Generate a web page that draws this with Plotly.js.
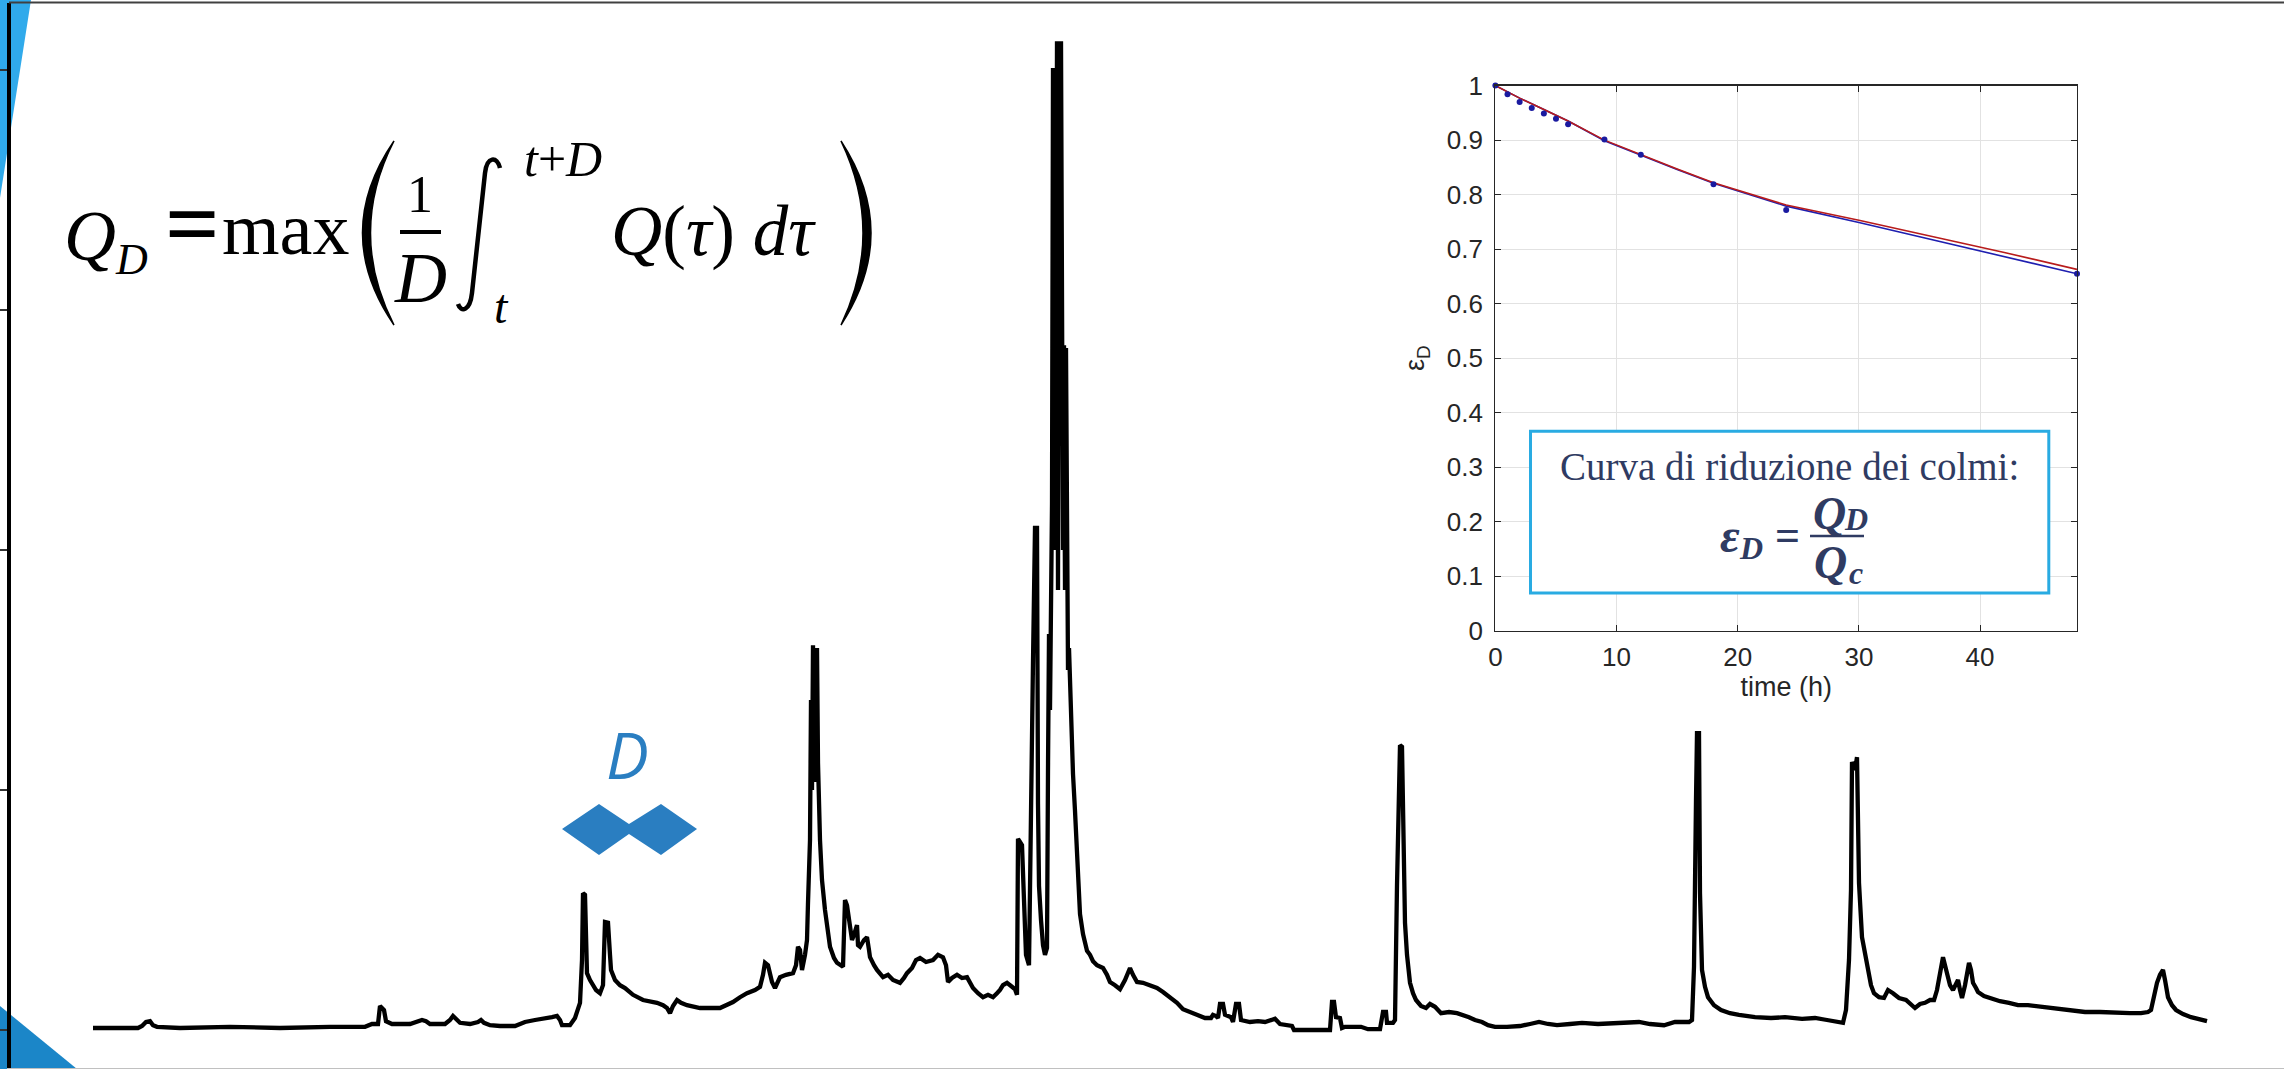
<!DOCTYPE html>
<html>
<head>
<meta charset="utf-8">
<script src="https://cdn.plot.ly/plotly-3.0.1.min.js"></script>
<style>html,body{margin:0;padding:0;background:#fff;}#chart{width:2284px;height:1069px;}</style>
</head>
<body>
<div id="chart"></div>
<script>
// ---------- Hydrograph (hourly discharge, m3/s) ----------
const hydroHours = [
0,45,49,53,57,60,64,87,137,187,237,272,279,285,287,291,293,299,317,325,329,333,337,352,357,360,363,367,377,385,388,391,397,407,422,432,442,452,459,464,
467,469,477,482,485,487,489,490,492,493,494,497,500,503,507,510,512,515,517,518,522,527,532,540,550,557,564,570,574,577,580,584,588,594,607,627,634,640,647,654,662,667,670,672,675,677,679,682,685,687,693,700,703,705,707,709,712,714,715,717,718,719,720,721,722,723,724,725,727,729,732,735,737,741,744,750,751,752,754,755,757,759,761,764,765,767,771,774,776,777,781,784,790,795,800,807,811,814,819,823,827,833,840,845,850,853,855,859,864,869,874,877,880,885,890,895,900,904,907,
910,914,919,922,924,925,927,929,931,933,936,938,940,942,944,945,946,948,950,952,954,955,956,957,958,959,960,961,962,963,964,965,966,967,968,969,970,971,972,973,974,975,976,979,980,982,985,987,990,994,997,1000,1004,1010,1014,1017,1022,1027,1032,1037,1040,1044,1050,1057,1064,1070,1077,1084,1090,1097,1107,
1112,1118,1120,1123,1125,1127,1130,1132,1135,1138,1140,1143,1146,1148,1157,1165,1172,1177,1182,1187,1193,1199,1201,1237,1239,1241,1243,1247,1249,1252,1268,1275,1287,1290,1293,1294,1300,1302,1304,1305,1307,1309,1310,1311,1312,1314,1317,1320,1323,1328,1333,1337,1342,1348,1356,1364,1370,1376,1382,1389,1395,1402,1414,1427,1437,1446,1455,1464,1477,1489,1505,1521,1532,1546,1557,1571,1582,1596,1599,1601,1603,1604,1606,1607,1609,1612,1615,1621,1628,1637,1646,1662,1678,1692,1709,1722,1734,1742,1750,1753,1756,1758,1759,1762,1764,1765,1766,1769,1772,1775,1778,1781,1786,1791,1795,1800,1806,1813,1818,1822,1827,1832,1837,1841,1844,1846,1848,1850,1852,1855,1857,1860,1863,1865,1867,1869,1872,1874,1876,1878,1880,1883,1885,1891,1897,1907,1916,1925,1935,1947,1960,1977,1992,2007,2023,2037,2048,2055,2058,2061,2064,2067,2070,2072,2075,2079,2083,2090,2098,2105,2111,2114
];
const hydroFlow = [
0.5,0.5,1,2,2.2,1.2,0.8,0.5,0.8,0.5,0.8,0.8,1.5,1.5,6,5,2.2,1.5,1.5,2,2.5,2.2,1.5,1.5,2.5,3.5,2.8,1.8,1.5,2,2.5,1.8,1.2,1,1,2,2.5,2.8,3.2,3.5,
2.5,1.2,1.2,3,5.5,6.8,17.5,34.2,33.8,22.5,14.2,12.5,11.2,10,9.2,11.2,27,26.8,18.8,15,12.5,11.2,10.5,8.8,7.5,7.2,6.8,6.2,5.5,4.2,6,7.5,6.8,6.2,5.5,5.5,6.2,7,8.2,9.2,10,10.8,13.8,16.8,16.2,13.8,12,10.5,12,13.2,13.8,14.2,16.2,20.8,20,15,18.8,22.5,31.8,47.5,82.5,60,96.2,70,92.5,62,95.5,66.8,47.5,37.5,30,23.8,20.8,18,16.8,15.8,25,32.5,31.2,29.2,25,22.5,23.8,26.2,21.2,20.8,22.5,23.2,20,18.2,16.2,15,13.2,13.8,12.5,11.8,13,14.2,15.5,17.5,18,17,17.5,18.8,18.2,16.2,12,13,13.8,13,13.2,11.8,10.5,9.2,8.2,8.8,8.2,9.2,10,
11.2,11.8,10.8,10.2,8.8,47.8,47,46.2,32.5,18.8,16.2,46.2,92.2,125.5,125.5,56.5,36,27.5,21.2,18.8,20.5,65,99,80,105.8,131.5,240.5,120,240.5,150,247.2,110,247.2,160,247.2,172.2,120,171.2,110,170.5,131.5,90,95.5,70,64,54.8,37.8,29,24,19.8,18.8,17.2,16.2,15.5,13.8,12,11.2,10.2,12.5,15.5,13.8,12,11.8,11.2,10.5,9.5,8.2,6.8,5.2,4.5,3.5,
3,3,3.8,3.5,3,6.5,6.5,3.8,3.5,3.2,2,6.5,6.5,2.5,2,2.2,2,2.5,2.8,1.5,1.2,1,0,0,7,7,3.2,3,0.5,0.8,0.8,0.2,0.2,4.5,4.5,1.8,1.8,2.5,36.2,45,71.2,70.8,57.5,45,26.8,18.8,11.8,9.2,7.5,6,5.5,6.5,5.8,4.2,4.5,4.2,3.8,3.2,2.5,2,1.2,0.8,0.8,1,1.5,2,1.5,1.2,1.5,1.8,1.5,1.8,2,2,1.5,1.2,2,2,2.5,15.8,57.5,74.2,74.2,34.2,15,10.8,8.2,6.2,5,4.2,3.8,3.2,3,3.2,2.8,3,2.5,2.2,1.8,5,17.5,35,67,65,68.2,52.5,36.8,23.2,18.8,15,11.2,9.2,8.2,8,10,9.2,8,7.5,6.2,5.5,6.5,6.8,7.5,7.5,10,13.2,15.5,18.2,16.2,13.2,11.2,10,11.2,12.5,10,8,11.2,15,16.8,15,11.8,10.5,9.5,8.5,8,7.2,6.8,6.2,6.2,5.8,5.5,5,4.5,4.5,4.2,4.2,4.2,4.5,5,8.8,11.8,13.8,15,12.5,8.2,6.2,5,4,3.2,2.8,2.5,2.2
];
const flowTicks = [0, 60, 120, 180, 240];

// ---------- Inset: peak reduction curve ----------
const durationHours = [0, 1, 2, 3, 4, 5, 6, 9, 12, 18, 24, 48];
const epsObserved = [1.0, 0.984, 0.970, 0.959, 0.949, 0.939, 0.929, 0.901, 0.873, 0.819, 0.772, 0.655];
const fitHours = [0, 2, 4, 6, 9, 12, 15, 18, 21, 24, 30, 36, 42, 48];
const epsFitBlue = [1.0, 0.977, 0.956, 0.935, 0.899, 0.872, 0.846, 0.821, 0.800, 0.779, 0.749, 0.718, 0.686, 0.655];
const epsFitRed  = [1.0, 0.977, 0.956, 0.935, 0.900, 0.873, 0.847, 0.822, 0.801, 0.781, 0.753, 0.724, 0.694, 0.663];
const insetXTicks = [0, 10, 20, 30, 40];

// ---------- helpers for page-placed decorations ----------
const W = 2284, H = 1069;
const PX = v => v / W;
const PY = v => 1 - v / H;
function pth(cmds) {
  return cmds.map(c => {
    const l = c[0]; const nums = [];
    for (let i = 1; i < c.length; i += 2) nums.push(PX(c[i]).toFixed(5) + ',' + PY(c[i + 1]).toFixed(5));
    return l + ' ' + nums.join(' ');
  }).join(' ');
}

const SERIF = 'Liberation Serif, Times New Roman, serif';
const SANS = 'Liberation Sans, Arial, sans-serif';
const NAVY = '#2F3B62';

function ann(text, x, y, size, opt) {
  opt = opt || {};
  return {
    text: text, x: PX(x), y: PY(y), xref: 'paper', yref: 'paper',
    xanchor: opt.xa || 'center', yanchor: 'middle', showarrow: false,
    font: {family: opt.family || SERIF, size: size, color: opt.color || '#000'}
  };
}

const traces = [
  {x: hydroHours, y: hydroFlow, xaxis: 'x', yaxis: 'y', mode: 'lines', type: 'scatter',
   line: {color: '#000', width: 4.3}, hoverinfo: 'skip', showlegend: false},
  {x: fitHours, y: epsFitBlue, xaxis: 'x2', yaxis: 'y2', mode: 'lines', type: 'scatter',
   line: {color: '#1f1fb0', width: 1.6}, showlegend: false},
  {x: fitHours, y: epsFitRed, xaxis: 'x2', yaxis: 'y2', mode: 'lines', type: 'scatter',
   line: {color: '#b81c1c', width: 1.6}, showlegend: false},
  {x: durationHours, y: epsObserved, xaxis: 'x2', yaxis: 'y2', mode: 'markers', type: 'scatter',
   marker: {color: '#1a1aa0', size: 6}, cliponaxis: false, showlegend: false}
];

const shapes = [
  {type: 'path', xref: 'paper', yref: 'paper', layer: 'below', line: {width: 0},
   fillcolor: '#30AAEB', path: pth([['M', 0, 0], ['L', 31, 0], ['L', 0, 198]]) + ' Z'},
  {type: 'path', xref: 'paper', yref: 'paper', layer: 'below', line: {width: 0},
   fillcolor: '#1B86C8', path: pth([['M', 0, 1006], ['L', 77, 1069], ['L', 0, 1069]]) + ' Z'},
  {type: 'line', xref: 'paper', yref: 'paper', layer: 'above', x0: PX(9), x1: 1, y0: PY(2.5), y1: PY(2.5),
   line: {color: '#404040', width: 2}},
  {type: 'path', xref: 'paper', yref: 'paper', layer: 'above', line: {width: 0}, fillcolor: '#2A7EC1',
   path: pth([['M', 562, 829], ['L', 599, 804], ['L', 629, 824], ['L', 661, 804], ['L', 697, 829], ['L', 661, 855], ['L', 629, 834], ['L', 599, 855]]) + ' Z'},
  {type: 'path', xref: 'paper', yref: 'paper', layer: 'above', line: {color: '#000', width: 1.5}, fillcolor: '#000',
   path: pth([['M', 394, 141], ['Q', 331, 233, 394, 325], ['Q', 347, 233, 394, 141]]) + ' Z'},
  {type: 'path', xref: 'paper', yref: 'paper', layer: 'above', line: {color: '#000', width: 1.5}, fillcolor: '#000',
   path: pth([['M', 841, 141], ['Q', 901, 233, 841, 325], ['Q', 885, 233, 841, 141]]) + ' Z'},
  {type: 'path', xref: 'paper', yref: 'paper', layer: 'above', line: {color: '#000', width: 4.5},
   path: pth([['M', 500, 168], ['C', 497, 156, 487, 156, 485, 173], ['L', 472, 293], ['C', 470, 311, 461, 313, 458, 304]])},
  {type: 'line', xref: 'paper', yref: 'paper', layer: 'above', x0: PX(400), x1: PX(441), y0: PY(232), y1: PY(232),
   line: {color: '#000', width: 4}},
  {type: 'rect', xref: 'paper', yref: 'paper', layer: 'above', x0: PX(1530.5), x1: PX(2048.8), y0: PY(593), y1: PY(431.3),
   line: {color: '#29ABE2', width: 3}, fillcolor: '#ffffff'},
  {type: 'line', xref: 'paper', yref: 'paper', layer: 'above', x0: PX(1810), x1: PX(1864), y0: PY(536), y1: PY(536),
   line: {color: NAVY, width: 2.5}}
];

const annotations = [
  ann('<i>Q</i>', 62, 236, 72, {xa: 'left'}),
  ann('<i>D</i>', 113, 259, 44, {xa: 'left'}),
  ann('<b>=</b>', 192, 223, 96),
  ann('max', 220, 229, 74, {xa: 'left'}),
  ann('1', 420, 195, 52),
  ann('<i>D</i>', 420, 278, 72),
  ann('<i>t</i>+<i>D</i>', 563, 159, 50),
  ann('<i>t</i>', 501, 306, 48),
  ann('<i>Q</i>(<i>τ</i>) <i>dτ</i>', 609, 231, 71, {xa: 'left'}),
  ann('<i>D</i>', 627, 754, 64, {family: 'Open Sans, Noto Sans, Liberation Sans, sans-serif', color: '#2A7EC1'}),
  ann('Curva di riduzione dei colmi:', 1789, 466, 39, {color: NAVY}),
  ann('<b><i>ε</i></b>', 1730, 535, 48, {color: NAVY}),
  ann('<b><i>D</i></b>', 1751, 548, 32, {color: NAVY}),
  ann('<b>=</b>', 1787, 535, 44, {color: NAVY}),
  ann('<b><i>Q</i></b>', 1829, 513, 46, {color: NAVY}),
  ann('<b><i>D</i></b>', 1856, 519, 32, {color: NAVY}),
  ann('<b><i>Q</i></b>', 1830, 562, 46, {color: NAVY}),
  ann('<b><i>c</i></b>', 1856, 573, 32, {color: NAVY})
];

const layout = {
  width: W, height: H,
  margin: {l: 0, r: 0, t: 0, b: 0, pad: 0},
  paper_bgcolor: '#ffffff', plot_bgcolor: 'rgba(0,0,0,0)',
  showlegend: false,
  xaxis: {domain: [11 / W, 1], range: [-82, 2191], anchor: 'y',
          showgrid: false, zeroline: false, showticklabels: false, ticks: '',
          showline: true, linecolor: '#c0c0c0', linewidth: 2},
  yaxis: {domain: [1 - 1068 / H, 1 - 3 / H], range: [-9.5, 256.75], anchor: 'x',
          showgrid: false, zeroline: false, showticklabels: false,
          tickmode: 'array', tickvals: flowTicks, ticks: 'outside', ticklen: 7, tickwidth: 2, tickcolor: '#333',
          showline: true, linecolor: '#000', linewidth: 4.5},
  xaxis2: {domain: [1495.4 / W, 2077 / W], range: [0, 48], anchor: 'y2',
           tickmode: 'array', tickvals: insetXTicks,
           showgrid: true, gridcolor: '#e2e2e2', gridwidth: 1, zeroline: false,
           showline: true, linecolor: '#262626', linewidth: 1.2, mirror: 'ticks',
           ticks: 'inside', ticklen: 6, tickwidth: 1, tickcolor: '#262626',
           ticklabelstandoff: 3,
           tickfont: {family: SANS, size: 26, color: '#262626'},
           title: {text: 'time (h)', font: {family: SANS, size: 27, color: '#262626'}, standoff: 2}},
  yaxis2: {domain: [1 - 630.9 / H, 1 - 85.6 / H], range: [0, 1], anchor: 'x2',
           dtick: 0.1, tick0: 0,
           showgrid: true, gridcolor: '#e2e2e2', gridwidth: 1, zeroline: false,
           showline: true, linecolor: '#262626', linewidth: 1.2, mirror: 'ticks',
           ticks: 'inside', ticklen: 6, tickwidth: 1, tickcolor: '#262626',
           ticklabelstandoff: 6,
           tickfont: {family: SANS, size: 26, color: '#262626'},
           title: {text: 'ε<sub>D</sub>', font: {family: SANS, size: 27, color: '#262626'}, standoff: 14}},
  shapes: shapes,
  annotations: annotations
};

Plotly.newPlot('chart', traces, layout, {staticPlot: true, displayModeBar: false});
</script>
</body>
</html>
